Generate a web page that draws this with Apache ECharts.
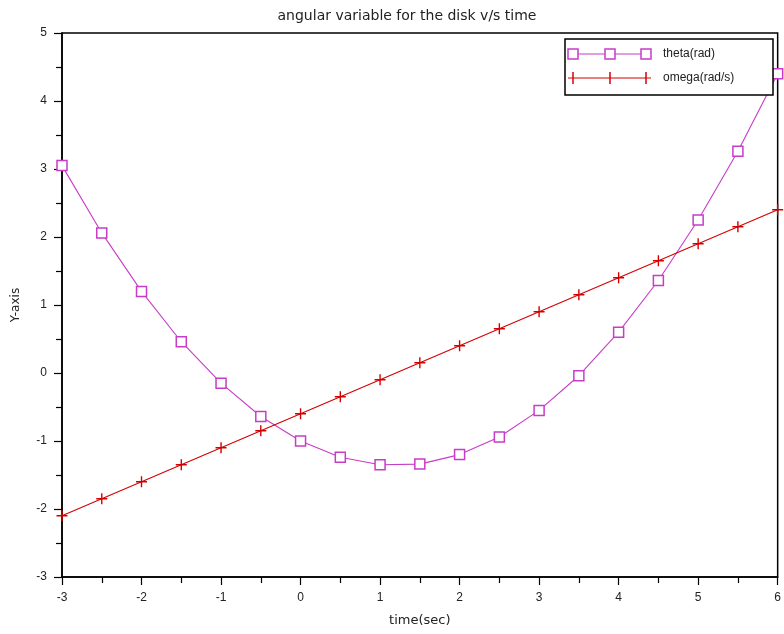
<!DOCTYPE html>
<html>
<head>
<meta charset="utf-8">
<script src="https://cdn.jsdelivr.net/npm/echarts@6/dist/echarts.min.js"></script>
<style>html,body{margin:0;padding:0;background:#fff}#c{width:784px;height:634px}</style>
</head>
<body>
<div id="c"></div>
<script>
var time = [-3, -2.5, -2, -1.5, -1, -0.5, 0, 0.5, 1, 1.5, 2, 2.5, 3, 3.5, 4, 4.5, 5, 5.5, 6];
var theta = [3.05, 2.06, 1.2, 0.46, -0.15, -0.64, -1.0, -1.24, -1.35, -1.34, -1.2, -0.94, -0.55, -0.04, 0.6, 1.36, 2.25, 3.26, 4.4];
var omega = [-2.1, -1.85, -1.6, -1.35, -1.1, -0.85, -0.6, -0.35, -0.1, 0.15, 0.4, 0.65, 0.9, 1.15, 1.4, 1.65, 1.9, 2.15, 2.4];
var seriesNames = ['theta(rad)', 'omega(rad/s)'];
var titleText = 'angular variable for the disk v/s time';
var xName = 'time(sec)';
var yName = 'Y-axis';

var MAG = '#c83cc8';
var RED = '#d40000';
var FONT = 'Liberation Sans, Arial, sans-serif';
var WIDE = 'DejaVu Sans, Verdana, sans-serif';
var PLUS = 'path://M0,5L10,5M5,0L5,10';

function pairs(xs, ys){ return xs.map(function(x,i){ return [x, ys[i]]; }); }

var chart = echarts.init(document.getElementById('c'));
var axisCommon = {
  type: 'value',
  axisLine: {show: true, onZero: false, lineStyle: {color: '#000', width: 1.5}},
  axisTick: {show: true, length: 8, lineStyle: {color: '#000', width: 1.2}},
  minorTick: {show: true, splitNumber: 2, length: 6, lineStyle: {color: '#000', width: 1.2}},
  splitLine: {show: false},
  axisLabel: {color: '#222', fontSize: 12, fontFamily: FONT},
  nameLocation: 'middle',
  nameTextStyle: {color: '#222', fontSize: 12, fontFamily: WIDE}
};
chart.setOption({
  animation: false,
  backgroundColor: '#fff',
  title: {text: titleText, left: 402, textAlign: 'center', top: 4,
    textStyle: {fontSize: 14, fontWeight: 'normal', color: '#222', fontFamily: WIDE}},
  grid: {left: 62, right: 1, top: 33, bottom: 57, show: true, borderColor: '#000', borderWidth: 1.5, containLabel: false},
  xAxis: Object.assign({}, axisCommon, {min: -3, max: 6, interval: 1, name: xName, nameGap: 37,
    nameTextStyle: Object.assign({}, axisCommon.nameTextStyle, {fontSize: 13}),
    axisLabel: Object.assign({}, axisCommon.axisLabel, {margin: 15})}),
  yAxis: Object.assign({}, axisCommon, {min: -3, max: 5, interval: 1, name: yName, nameGap: 40,
    axisLabel: Object.assign({}, axisCommon.axisLabel, {margin: 15})}),
  series: [
    {name: seriesNames[0], type: 'line', data: pairs(time, theta), clip: false,
      symbol: 'rect', symbolSize: 10, showAllSymbol: true,
      lineStyle: {color: MAG, width: 1.1},
      itemStyle: {color: '#fff', borderColor: MAG, borderWidth: 1.5}},
    {name: seriesNames[1], type: 'line', data: pairs(time, omega), clip: false,
      symbol: PLUS, symbolSize: 11, showAllSymbol: true,
      lineStyle: {color: RED, width: 1.1},
      itemStyle: {color: 'rgba(0,0,0,0)', borderColor: RED, borderWidth: 1.4}}
  ],
  graphic: [
    {type: 'rect', shape: {x: 565, y: 39, width: 208, height: 56},
      style: {fill: '#fff', stroke: '#000', lineWidth: 1.5}, z: 100},
    {type: 'line', shape: {x1: 573, y1: 54, x2: 646, y2: 54}, style: {stroke: MAG, lineWidth: 1.2}, z: 101},
    {type: 'rect', shape: {x: 568, y: 49, width: 10, height: 10}, style: {fill: '#fff', stroke: MAG, lineWidth: 1.5}, z: 102},
    {type: 'rect', shape: {x: 605, y: 49, width: 10, height: 10}, style: {fill: '#fff', stroke: MAG, lineWidth: 1.5}, z: 102},
    {type: 'rect', shape: {x: 641, y: 49, width: 10, height: 10}, style: {fill: '#fff', stroke: MAG, lineWidth: 1.5}, z: 102},
    {type: 'text', x: 663, y: 54, style: {text: seriesNames[0], fill: '#222', font: '12px ' + FONT, verticalAlign: 'middle'}, z: 102},
    {type: 'line', shape: {x1: 568, y1: 78, x2: 651, y2: 78}, style: {stroke: RED, lineWidth: 1.2}, z: 101},
    {type: 'line', shape: {x1: 573, y1: 72, x2: 573, y2: 84}, style: {stroke: RED, lineWidth: 1.5}, z: 102},
    {type: 'line', shape: {x1: 610, y1: 72, x2: 610, y2: 84}, style: {stroke: RED, lineWidth: 1.5}, z: 102},
    {type: 'line', shape: {x1: 646, y1: 72, x2: 646, y2: 84}, style: {stroke: RED, lineWidth: 1.5}, z: 102},
    {type: 'text', x: 663, y: 78, style: {text: seriesNames[1], fill: '#222', font: '12px ' + FONT, verticalAlign: 'middle'}, z: 102}
  ]
});
</script>
</body>
</html>
